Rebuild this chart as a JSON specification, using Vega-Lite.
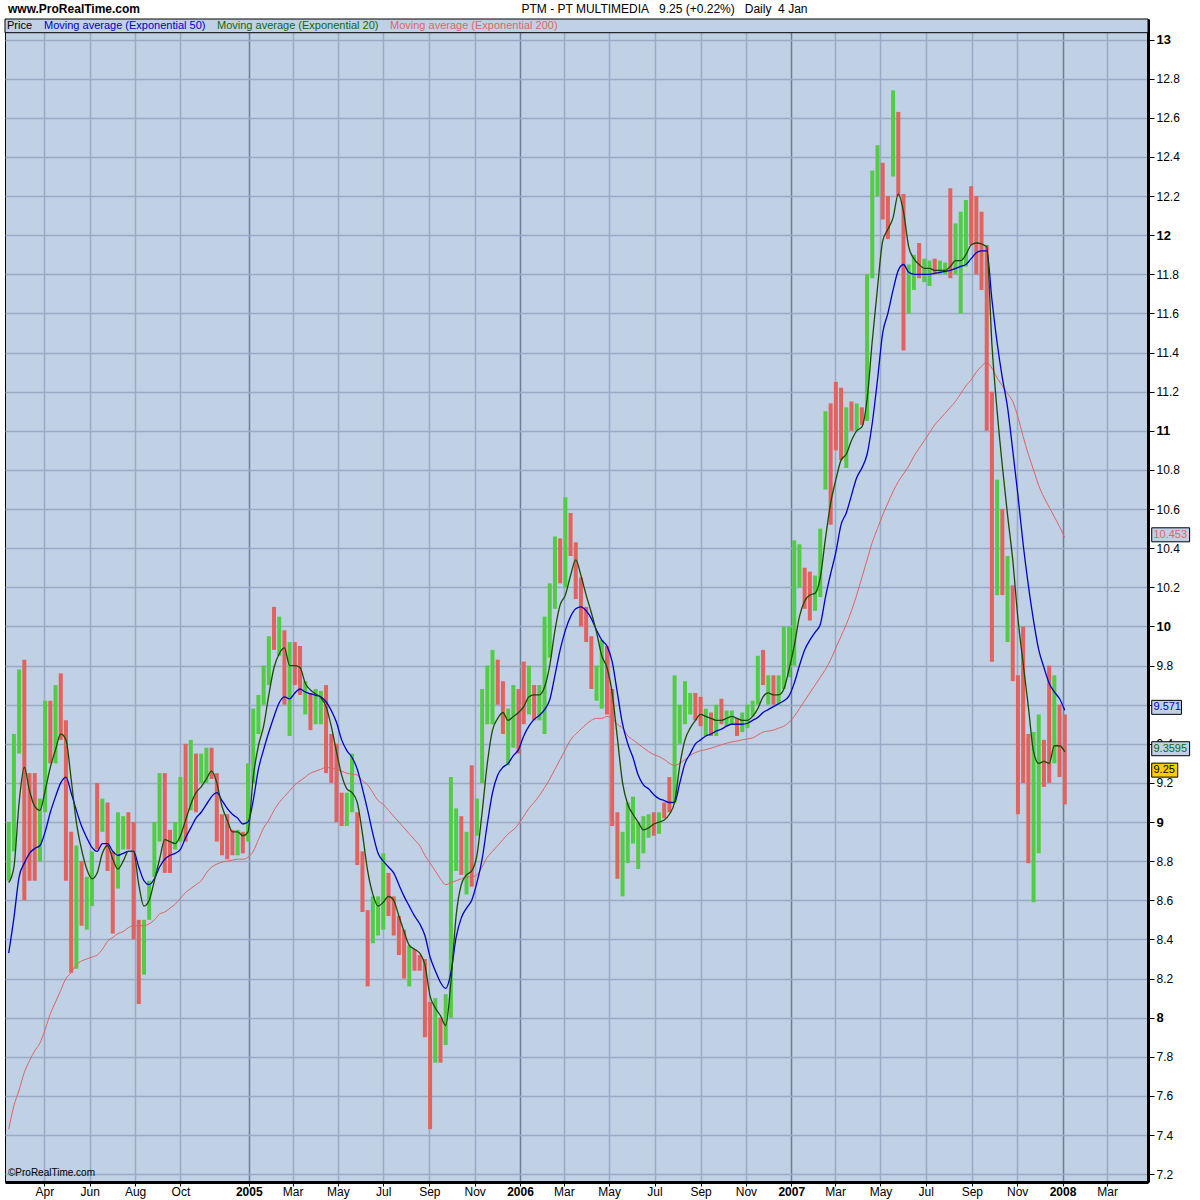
{
"$schema": "https://vega.github.io/schema/vega-lite/v6.json",
"width": 1143, "height": 1163,
"autosize": {"type": "none"},
"padding": {"left": 5, "top": 19, "right": 52, "bottom": 18},
"background": "white",
"config": {
  "font": "Liberation Sans",
  "view": {"fill": "#c0d1e6", "stroke": "black", "strokeWidth": 1},
  "axis": {"labelColor": "black", "labelFont": "Liberation Sans", "tickColor": "black", "domainColor": "black", "domainWidth": 3, "labelOverlap": false, "labelBound": false, "labelFlush": false},
  "scale": {"continuousPadding": 0}
},
"datasets": {
"px": [
{"d":"2004-02-13","lo":8.70,"hi":9.00,"dir":"up","e20":8.69,"e50":8.33,"e200":7.43},
{"d":"2004-02-20","lo":8.85,"hi":9.45,"dir":"up","e20":8.77,"e50":8.51,"e200":7.55},
{"d":"2004-02-27","lo":9.35,"hi":9.78,"dir":"up","e20":9.10,"e50":8.72,"e200":7.63},
{"d":"2004-03-05","lo":8.60,"hi":9.83,"dir":"dn","e20":9.28,"e50":8.79,"e200":7.72},
{"d":"2004-03-12","lo":8.70,"hi":9.25,"dir":"dn","e20":9.16,"e50":8.84,"e200":7.78},
{"d":"2004-03-19","lo":8.70,"hi":9.25,"dir":"dn","e20":9.08,"e50":8.865,"e200":7.83},
{"d":"2004-03-26","lo":8.80,"hi":9.12,"dir":"up","e20":9.06,"e50":8.88,"e200":7.87},
{"d":"2004-04-02","lo":9.05,"hi":9.62,"dir":"up","e20":9.16,"e50":8.95,"e200":7.94},
{"d":"2004-04-09","lo":9.30,"hi":9.62,"dir":"dn","e20":9.28,"e50":9.05,"e200":8.02},
{"d":"2004-04-16","lo":9.30,"hi":9.70,"dir":"up","e20":9.37,"e50":9.13,"e200":8.08},
{"d":"2004-04-23","lo":9.42,"hi":9.76,"dir":"dn","e20":9.45,"e50":9.20,"e200":8.14},
{"d":"2004-04-30","lo":8.70,"hi":9.52,"dir":"dn","e20":9.42,"e50":9.23,"e200":8.20},
{"d":"2004-05-07","lo":8.23,"hi":8.95,"dir":"dn","e20":9.22,"e50":9.15,"e200":8.23},
{"d":"2004-05-14","lo":8.25,"hi":8.88,"dir":"up","e20":9.00,"e50":9.06,"e200":8.27},
{"d":"2004-05-21","lo":8.47,"hi":8.80,"dir":"dn","e20":8.86,"e50":8.98,"e200":8.29},
{"d":"2004-05-28","lo":8.45,"hi":8.72,"dir":"up","e20":8.76,"e50":8.92,"e200":8.30},
{"d":"2004-06-04","lo":8.57,"hi":8.85,"dir":"up","e20":8.71,"e50":8.87,"e200":8.31},
{"d":"2004-06-11","lo":8.86,"hi":9.20,"dir":"dn","e20":8.74,"e50":8.85,"e200":8.32},
{"d":"2004-06-18","lo":8.95,"hi":9.12,"dir":"up","e20":8.84,"e50":8.89,"e200":8.35},
{"d":"2004-06-25","lo":8.75,"hi":9.10,"dir":"dn","e20":8.88,"e50":8.89,"e200":8.39},
{"d":"2004-07-02","lo":8.43,"hi":8.85,"dir":"dn","e20":8.81,"e50":8.85,"e200":8.41},
{"d":"2004-07-09","lo":8.66,"hi":9.05,"dir":"up","e20":8.76,"e50":8.83,"e200":8.43},
{"d":"2004-07-16","lo":8.86,"hi":9.03,"dir":"up","e20":8.80,"e50":8.84,"e200":8.44},
{"d":"2004-07-23","lo":8.86,"hi":9.05,"dir":"dn","e20":8.85,"e50":8.85,"e200":8.46},
{"d":"2004-07-30","lo":8.40,"hi":9.00,"dir":"dn","e20":8.85,"e50":8.85,"e200":8.47},
{"d":"2004-08-06","lo":8.07,"hi":8.50,"dir":"dn","e20":8.68,"e50":8.77,"e200":8.47},
{"d":"2004-08-13","lo":8.22,"hi":8.50,"dir":"up","e20":8.57,"e50":8.70,"e200":8.47},
{"d":"2004-08-20","lo":8.50,"hi":8.70,"dir":"up","e20":8.60,"e50":8.68,"e200":8.48},
{"d":"2004-08-27","lo":8.72,"hi":9.00,"dir":"up","e20":8.70,"e50":8.71,"e200":8.50},
{"d":"2004-09-03","lo":8.90,"hi":9.25,"dir":"up","e20":8.81,"e50":8.77,"e200":8.53},
{"d":"2004-09-10","lo":8.74,"hi":9.25,"dir":"dn","e20":8.91,"e50":8.81,"e200":8.54},
{"d":"2004-09-17","lo":8.74,"hi":8.96,"dir":"dn","e20":8.90,"e50":8.83,"e200":8.56},
{"d":"2004-09-24","lo":8.86,"hi":9.00,"dir":"up","e20":8.89,"e50":8.84,"e200":8.58},
{"d":"2004-10-01","lo":8.90,"hi":9.23,"dir":"up","e20":8.93,"e50":8.86,"e200":8.61},
{"d":"2004-10-08","lo":8.90,"hi":9.40,"dir":"dn","e20":9.01,"e50":8.92,"e200":8.64},
{"d":"2004-10-15","lo":9.06,"hi":9.42,"dir":"up","e20":9.09,"e50":8.97,"e200":8.66},
{"d":"2004-10-22","lo":9.05,"hi":9.35,"dir":"dn","e20":9.15,"e50":9.02,"e200":8.68},
{"d":"2004-10-29","lo":9.20,"hi":9.35,"dir":"up","e20":9.18,"e50":9.05,"e200":8.70},
{"d":"2004-11-05","lo":9.20,"hi":9.38,"dir":"up","e20":9.22,"e50":9.09,"e200":8.74},
{"d":"2004-11-12","lo":9.22,"hi":9.38,"dir":"dn","e20":9.26,"e50":9.13,"e200":8.77},
{"d":"2004-11-19","lo":8.90,"hi":9.25,"dir":"dn","e20":9.20,"e50":9.15,"e200":8.785},
{"d":"2004-11-26","lo":8.83,"hi":9.04,"dir":"dn","e20":9.08,"e50":9.11,"e200":8.795},
{"d":"2004-12-03","lo":8.81,"hi":9.04,"dir":"dn","e20":9.01,"e50":9.07,"e200":8.80},
{"d":"2004-12-10","lo":8.83,"hi":8.96,"dir":"dn","e20":8.95,"e50":9.04,"e200":8.805},
{"d":"2004-12-17","lo":8.83,"hi":8.96,"dir":"up","e20":8.95,"e50":9.02,"e200":8.81},
{"d":"2004-12-24","lo":8.84,"hi":8.95,"dir":"dn","e20":8.93,"e50":8.99,"e200":8.81},
{"d":"2004-12-31","lo":8.90,"hi":9.30,"dir":"up","e20":8.95,"e50":9.00,"e200":8.82},
{"d":"2005-01-07","lo":9.20,"hi":9.58,"dir":"up","e20":9.23,"e50":9.11,"e200":8.85},
{"d":"2005-01-14","lo":9.45,"hi":9.65,"dir":"up","e20":9.39,"e50":9.27,"e200":8.91},
{"d":"2005-01-21","lo":9.60,"hi":9.80,"dir":"up","e20":9.49,"e50":9.37,"e200":8.97},
{"d":"2005-01-28","lo":9.70,"hi":9.95,"dir":"up","e20":9.65,"e50":9.46,"e200":9.01},
{"d":"2005-02-04","lo":9.88,"hi":10.10,"dir":"dn","e20":9.79,"e50":9.54,"e200":9.06},
{"d":"2005-02-11","lo":9.85,"hi":10.05,"dir":"up","e20":9.86,"e50":9.61,"e200":9.10},
{"d":"2005-02-18","lo":9.60,"hi":9.98,"dir":"dn","e20":9.89,"e50":9.64,"e200":9.13},
{"d":"2005-02-25","lo":9.44,"hi":9.92,"dir":"up","e20":9.80,"e50":9.63,"e200":9.16},
{"d":"2005-03-04","lo":9.70,"hi":9.92,"dir":"dn","e20":9.80,"e50":9.66,"e200":9.19},
{"d":"2005-03-11","lo":9.65,"hi":9.90,"dir":"dn","e20":9.79,"e50":9.68,"e200":9.21},
{"d":"2005-03-18","lo":9.55,"hi":9.72,"dir":"up","e20":9.71,"e50":9.665,"e200":9.23},
{"d":"2005-03-25","lo":9.47,"hi":9.66,"dir":"dn","e20":9.675,"e50":9.655,"e200":9.25},
{"d":"2005-04-01","lo":9.50,"hi":9.68,"dir":"up","e20":9.655,"e50":9.648,"e200":9.26},
{"d":"2005-04-08","lo":9.50,"hi":9.67,"dir":"up","e20":9.635,"e50":9.64,"e200":9.27},
{"d":"2005-04-15","lo":9.25,"hi":9.70,"dir":"dn","e20":9.59,"e50":9.615,"e200":9.28},
{"d":"2005-04-22","lo":9.20,"hi":9.45,"dir":"dn","e20":9.49,"e50":9.57,"e200":9.275},
{"d":"2005-04-29","lo":9.00,"hi":9.40,"dir":"dn","e20":9.36,"e50":9.51,"e200":9.27},
{"d":"2005-05-06","lo":8.98,"hi":9.15,"dir":"dn","e20":9.24,"e50":9.42,"e200":9.26},
{"d":"2005-05-13","lo":8.98,"hi":9.15,"dir":"up","e20":9.17,"e50":9.365,"e200":9.25},
{"d":"2005-05-20","lo":9.05,"hi":9.35,"dir":"up","e20":9.15,"e50":9.33,"e200":9.245},
{"d":"2005-05-27","lo":8.78,"hi":9.05,"dir":"dn","e20":9.10,"e50":9.27,"e200":9.24},
{"d":"2005-06-03","lo":8.54,"hi":8.85,"dir":"dn","e20":8.94,"e50":9.17,"e200":9.21},
{"d":"2005-06-10","lo":8.16,"hi":8.55,"dir":"dn","e20":8.75,"e50":9.06,"e200":9.19},
{"d":"2005-06-17","lo":8.38,"hi":8.62,"dir":"up","e20":8.63,"e50":8.94,"e200":9.15},
{"d":"2005-06-24","lo":8.42,"hi":8.62,"dir":"up","e20":8.57,"e50":8.84,"e200":9.11},
{"d":"2005-07-01","lo":8.45,"hi":8.84,"dir":"up","e20":8.59,"e50":8.80,"e200":9.09},
{"d":"2005-07-08","lo":8.52,"hi":8.74,"dir":"dn","e20":8.62,"e50":8.77,"e200":9.06},
{"d":"2005-07-15","lo":8.42,"hi":8.62,"dir":"dn","e20":8.60,"e50":8.74,"e200":9.03},
{"d":"2005-07-22","lo":8.32,"hi":8.52,"dir":"dn","e20":8.52,"e50":8.68,"e200":9.00},
{"d":"2005-07-29","lo":8.20,"hi":8.45,"dir":"dn","e20":8.44,"e50":8.62,"e200":8.97},
{"d":"2005-08-05","lo":8.16,"hi":8.37,"dir":"up","e20":8.37,"e50":8.57,"e200":8.94},
{"d":"2005-08-12","lo":8.24,"hi":8.35,"dir":"dn","e20":8.35,"e50":8.52,"e200":8.91},
{"d":"2005-08-19","lo":8.24,"hi":8.32,"dir":"dn","e20":8.33,"e50":8.48,"e200":8.88},
{"d":"2005-08-26","lo":7.90,"hi":8.30,"dir":"dn","e20":8.27,"e50":8.42,"e200":8.83},
{"d":"2005-09-02","lo":7.43,"hi":8.08,"dir":"dn","e20":8.11,"e50":8.31,"e200":8.79},
{"d":"2005-09-09","lo":7.77,"hi":8.10,"dir":"up","e20":8.05,"e50":8.24,"e200":8.75},
{"d":"2005-09-16","lo":7.77,"hi":8.00,"dir":"dn","e20":8.01,"e50":8.18,"e200":8.71},
{"d":"2005-09-23","lo":7.86,"hi":8.12,"dir":"up","e20":7.96,"e50":8.15,"e200":8.68},
{"d":"2005-09-30","lo":8.00,"hi":9.23,"dir":"up","e20":8.18,"e50":8.23,"e200":8.69},
{"d":"2005-10-07","lo":8.75,"hi":9.07,"dir":"up","e20":8.52,"e50":8.41,"e200":8.70},
{"d":"2005-10-14","lo":8.73,"hi":9.03,"dir":"dn","e20":8.68,"e50":8.51,"e200":8.71},
{"d":"2005-10-21","lo":8.63,"hi":8.95,"dir":"up","e20":8.73,"e50":8.56,"e200":8.72},
{"d":"2005-10-28","lo":8.67,"hi":9.29,"dir":"dn","e20":8.75,"e50":8.60,"e200":8.72},
{"d":"2005-11-04","lo":8.93,"hi":9.12,"dir":"up","e20":8.83,"e50":8.69,"e200":8.73},
{"d":"2005-11-11","lo":9.20,"hi":9.68,"dir":"up","e20":9.05,"e50":8.81,"e200":8.77},
{"d":"2005-11-18","lo":9.50,"hi":9.80,"dir":"up","e20":9.30,"e50":8.99,"e200":8.82},
{"d":"2005-11-25","lo":9.50,"hi":9.88,"dir":"up","e20":9.47,"e50":9.15,"e200":8.85},
{"d":"2005-12-02","lo":9.60,"hi":9.83,"dir":"dn","e20":9.53,"e50":9.24,"e200":8.88},
{"d":"2005-12-09","lo":9.45,"hi":9.72,"dir":"dn","e20":9.56,"e50":9.28,"e200":8.91},
{"d":"2005-12-16","lo":9.29,"hi":9.58,"dir":"up","e20":9.52,"e50":9.30,"e200":8.94},
{"d":"2005-12-23","lo":9.38,"hi":9.70,"dir":"up","e20":9.54,"e50":9.34,"e200":8.96},
{"d":"2005-12-30","lo":9.35,"hi":9.68,"dir":"dn","e20":9.56,"e50":9.37,"e200":8.99},
{"d":"2006-01-06","lo":9.50,"hi":9.82,"dir":"dn","e20":9.59,"e50":9.44,"e200":9.03},
{"d":"2006-01-13","lo":9.55,"hi":9.80,"dir":"up","e20":9.64,"e50":9.49,"e200":9.07},
{"d":"2006-01-20","lo":9.52,"hi":9.70,"dir":"dn","e20":9.65,"e50":9.525,"e200":9.10},
{"d":"2006-01-27","lo":9.52,"hi":9.70,"dir":"up","e20":9.65,"e50":9.545,"e200":9.135},
{"d":"2006-02-03","lo":9.45,"hi":10.05,"dir":"up","e20":9.69,"e50":9.575,"e200":9.175},
{"d":"2006-02-10","lo":9.84,"hi":10.22,"dir":"up","e20":9.80,"e50":9.625,"e200":9.22},
{"d":"2006-02-17","lo":10.09,"hi":10.46,"dir":"up","e20":9.98,"e50":9.75,"e200":9.27},
{"d":"2006-02-24","lo":10.22,"hi":10.45,"dir":"dn","e20":10.11,"e50":9.88,"e200":9.32},
{"d":"2006-03-03","lo":10.20,"hi":10.66,"dir":"up","e20":10.16,"e50":9.98,"e200":9.37},
{"d":"2006-03-10","lo":10.36,"hi":10.58,"dir":"dn","e20":10.26,"e50":10.05,"e200":9.42},
{"d":"2006-03-17","lo":10.14,"hi":10.43,"dir":"dn","e20":10.34,"e50":10.09,"e200":9.45},
{"d":"2006-03-24","lo":10.00,"hi":10.25,"dir":"dn","e20":10.26,"e50":10.10,"e200":9.475},
{"d":"2006-03-31","lo":9.92,"hi":10.10,"dir":"dn","e20":10.16,"e50":10.08,"e200":9.50},
{"d":"2006-04-07","lo":9.68,"hi":9.95,"dir":"dn","e20":10.07,"e50":10.04,"e200":9.52},
{"d":"2006-04-14","lo":9.62,"hi":9.80,"dir":"up","e20":9.97,"e50":9.98,"e200":9.53},
{"d":"2006-04-21","lo":9.58,"hi":9.93,"dir":"up","e20":9.85,"e50":9.93,"e200":9.53},
{"d":"2006-04-28","lo":9.55,"hi":9.90,"dir":"dn","e20":9.79,"e50":9.90,"e200":9.54},
{"d":"2006-05-05","lo":8.98,"hi":9.68,"dir":"dn","e20":9.66,"e50":9.82,"e200":9.53},
{"d":"2006-05-12","lo":8.71,"hi":9.05,"dir":"dn","e20":9.43,"e50":9.66,"e200":9.50},
{"d":"2006-05-19","lo":8.62,"hi":8.95,"dir":"up","e20":9.20,"e50":9.50,"e200":9.48},
{"d":"2006-05-26","lo":8.79,"hi":9.10,"dir":"up","e20":9.09,"e50":9.40,"e200":9.44},
{"d":"2006-06-02","lo":8.89,"hi":9.13,"dir":"up","e20":9.04,"e50":9.33,"e200":9.42},
{"d":"2006-06-09","lo":8.76,"hi":9.00,"dir":"up","e20":9.00,"e50":9.24,"e200":9.40},
{"d":"2006-06-16","lo":8.84,"hi":9.03,"dir":"up","e20":8.96,"e50":9.19,"e200":9.38},
{"d":"2006-06-23","lo":8.92,"hi":9.04,"dir":"up","e20":8.97,"e50":9.17,"e200":9.36},
{"d":"2006-06-30","lo":8.93,"hi":9.05,"dir":"dn","e20":8.99,"e50":9.14,"e200":9.345},
{"d":"2006-07-07","lo":8.94,"hi":9.05,"dir":"up","e20":9.00,"e50":9.12,"e200":9.335},
{"d":"2006-07-14","lo":9.02,"hi":9.10,"dir":"dn","e20":9.01,"e50":9.11,"e200":9.32},
{"d":"2006-07-21","lo":9.05,"hi":9.23,"dir":"dn","e20":9.04,"e50":9.10,"e200":9.30},
{"d":"2006-07-28","lo":9.10,"hi":9.75,"dir":"up","e20":9.10,"e50":9.10,"e200":9.29},
{"d":"2006-08-04","lo":9.40,"hi":9.60,"dir":"up","e20":9.29,"e50":9.20,"e200":9.30},
{"d":"2006-08-11","lo":9.50,"hi":9.72,"dir":"up","e20":9.42,"e50":9.30,"e200":9.32},
{"d":"2006-08-18","lo":9.55,"hi":9.66,"dir":"up","e20":9.48,"e50":9.35,"e200":9.34},
{"d":"2006-08-25","lo":9.52,"hi":9.66,"dir":"dn","e20":9.52,"e50":9.40,"e200":9.355},
{"d":"2006-09-01","lo":9.49,"hi":9.64,"dir":"dn","e20":9.55,"e50":9.42,"e200":9.365},
{"d":"2006-09-08","lo":9.44,"hi":9.58,"dir":"up","e20":9.54,"e50":9.44,"e200":9.37},
{"d":"2006-09-15","lo":9.44,"hi":9.56,"dir":"dn","e20":9.53,"e50":9.45,"e200":9.378},
{"d":"2006-09-22","lo":9.44,"hi":9.60,"dir":"up","e20":9.52,"e50":9.465,"e200":9.386},
{"d":"2006-09-29","lo":9.50,"hi":9.63,"dir":"dn","e20":9.52,"e50":9.475,"e200":9.395},
{"d":"2006-10-06","lo":9.49,"hi":9.57,"dir":"up","e20":9.53,"e50":9.49,"e200":9.403},
{"d":"2006-10-13","lo":9.50,"hi":9.57,"dir":"up","e20":9.54,"e50":9.50,"e200":9.41},
{"d":"2006-10-20","lo":9.44,"hi":9.53,"dir":"dn","e20":9.53,"e50":9.50,"e200":9.414},
{"d":"2006-10-27","lo":9.46,"hi":9.56,"dir":"up","e20":9.52,"e50":9.50,"e200":9.42},
{"d":"2006-11-03","lo":9.48,"hi":9.60,"dir":"up","e20":9.52,"e50":9.505,"e200":9.425},
{"d":"2006-11-10","lo":9.54,"hi":9.62,"dir":"up","e20":9.54,"e50":9.52,"e200":9.43},
{"d":"2006-11-17","lo":9.60,"hi":9.85,"dir":"up","e20":9.58,"e50":9.535,"e200":9.445},
{"d":"2006-11-24","lo":9.70,"hi":9.88,"dir":"dn","e20":9.64,"e50":9.56,"e200":9.46},
{"d":"2006-12-01","lo":9.60,"hi":9.75,"dir":"up","e20":9.66,"e50":9.575,"e200":9.465},
{"d":"2006-12-08","lo":9.60,"hi":9.75,"dir":"dn","e20":9.65,"e50":9.59,"e200":9.47},
{"d":"2006-12-15","lo":9.60,"hi":9.75,"dir":"up","e20":9.65,"e50":9.605,"e200":9.48},
{"d":"2006-12-22","lo":9.68,"hi":10.00,"dir":"up","e20":9.68,"e50":9.62,"e200":9.49},
{"d":"2006-12-29","lo":9.74,"hi":10.00,"dir":"up","e20":9.78,"e50":9.645,"e200":9.51},
{"d":"2007-01-05","lo":9.80,"hi":10.44,"dir":"up","e20":9.90,"e50":9.71,"e200":9.54},
{"d":"2007-01-12","lo":10.20,"hi":10.42,"dir":"up","e20":10.05,"e50":9.80,"e200":9.58},
{"d":"2007-01-19","lo":10.09,"hi":10.30,"dir":"dn","e20":10.13,"e50":9.88,"e200":9.62},
{"d":"2007-01-26","lo":10.03,"hi":10.28,"dir":"dn","e20":10.16,"e50":9.93,"e200":9.66},
{"d":"2007-02-02","lo":10.08,"hi":10.26,"dir":"up","e20":10.17,"e50":9.97,"e200":9.70},
{"d":"2007-02-09","lo":10.15,"hi":10.50,"dir":"up","e20":10.25,"e50":10.01,"e200":9.74},
{"d":"2007-02-16","lo":10.70,"hi":11.10,"dir":"up","e20":10.45,"e50":10.15,"e200":9.78},
{"d":"2007-02-23","lo":10.52,"hi":11.14,"dir":"dn","e20":10.63,"e50":10.27,"e200":9.83},
{"d":"2007-03-02","lo":10.90,"hi":11.25,"dir":"dn","e20":10.75,"e50":10.38,"e200":9.89},
{"d":"2007-03-09","lo":10.85,"hi":11.22,"dir":"dn","e20":10.85,"e50":10.52,"e200":9.95},
{"d":"2007-03-16","lo":10.81,"hi":11.12,"dir":"up","e20":10.88,"e50":10.58,"e200":10.01},
{"d":"2007-03-23","lo":11.00,"hi":11.15,"dir":"dn","e20":10.95,"e50":10.67,"e200":10.08},
{"d":"2007-03-30","lo":11.00,"hi":11.14,"dir":"up","e20":11.00,"e50":10.76,"e200":10.16},
{"d":"2007-04-06","lo":11.03,"hi":11.12,"dir":"dn","e20":11.02,"e50":10.81,"e200":10.25},
{"d":"2007-04-13","lo":11.05,"hi":11.80,"dir":"up","e20":11.16,"e50":10.88,"e200":10.34},
{"d":"2007-04-20","lo":11.78,"hi":12.33,"dir":"up","e20":11.46,"e50":11.04,"e200":10.43},
{"d":"2007-04-27","lo":12.20,"hi":12.46,"dir":"up","e20":11.73,"e50":11.26,"e200":10.50},
{"d":"2007-05-04","lo":12.08,"hi":12.37,"dir":"dn","e20":11.97,"e50":11.50,"e200":10.57},
{"d":"2007-05-11","lo":11.98,"hi":12.20,"dir":"dn","e20":12.03,"e50":11.60,"e200":10.63},
{"d":"2007-05-18","lo":12.30,"hi":12.74,"dir":"up","e20":12.09,"e50":11.72,"e200":10.69},
{"d":"2007-05-25","lo":12.20,"hi":12.63,"dir":"dn","e20":12.21,"e50":11.82,"e200":10.74},
{"d":"2007-06-01","lo":11.41,"hi":12.21,"dir":"dn","e20":12.12,"e50":11.85,"e200":10.78},
{"d":"2007-06-08","lo":11.60,"hi":11.85,"dir":"up","e20":11.94,"e50":11.81,"e200":10.82},
{"d":"2007-06-15","lo":11.72,"hi":11.90,"dir":"up","e20":11.88,"e50":11.80,"e200":10.87},
{"d":"2007-06-22","lo":11.78,"hi":11.96,"dir":"dn","e20":11.85,"e50":11.80,"e200":10.91},
{"d":"2007-06-29","lo":11.76,"hi":11.88,"dir":"up","e20":11.83,"e50":11.80,"e200":10.95},
{"d":"2007-07-06","lo":11.74,"hi":11.87,"dir":"up","e20":11.83,"e50":11.80,"e200":10.99},
{"d":"2007-07-13","lo":11.80,"hi":11.88,"dir":"dn","e20":11.82,"e50":11.805,"e200":11.03},
{"d":"2007-07-20","lo":11.80,"hi":11.87,"dir":"up","e20":11.82,"e50":11.81,"e200":11.06},
{"d":"2007-07-27","lo":11.80,"hi":11.86,"dir":"up","e20":11.82,"e50":11.815,"e200":11.09},
{"d":"2007-08-03","lo":11.78,"hi":12.24,"dir":"dn","e20":11.84,"e50":11.82,"e200":11.12},
{"d":"2007-08-10","lo":11.80,"hi":12.06,"dir":"up","e20":11.87,"e50":11.83,"e200":11.15},
{"d":"2007-08-17","lo":11.60,"hi":12.12,"dir":"up","e20":11.87,"e50":11.84,"e200":11.19},
{"d":"2007-08-24","lo":11.84,"hi":12.18,"dir":"up","e20":11.90,"e50":11.85,"e200":11.23},
{"d":"2007-08-31","lo":11.95,"hi":12.25,"dir":"dn","e20":11.95,"e50":11.88,"e200":11.26},
{"d":"2007-09-07","lo":11.80,"hi":12.20,"dir":"dn","e20":11.96,"e50":11.91,"e200":11.30},
{"d":"2007-09-14","lo":11.72,"hi":12.12,"dir":"dn","e20":11.955,"e50":11.92,"e200":11.33},
{"d":"2007-09-21","lo":11.00,"hi":11.95,"dir":"dn","e20":11.94,"e50":11.92,"e200":11.35},
{"d":"2007-09-28","lo":9.82,"hi":11.20,"dir":"dn","e20":11.44,"e50":11.67,"e200":11.32},
{"d":"2007-10-05","lo":10.16,"hi":10.75,"dir":"up","e20":11.10,"e50":11.45,"e200":11.27},
{"d":"2007-10-12","lo":10.16,"hi":10.60,"dir":"dn","e20":10.82,"e50":11.27,"e200":11.23},
{"d":"2007-10-19","lo":9.92,"hi":10.36,"dir":"up","e20":10.57,"e50":11.12,"e200":11.19},
{"d":"2007-10-26","lo":9.72,"hi":10.21,"dir":"dn","e20":10.34,"e50":10.90,"e200":11.15},
{"d":"2007-11-02","lo":9.04,"hi":9.75,"dir":"dn","e20":10.04,"e50":10.67,"e200":11.07},
{"d":"2007-11-09","lo":9.20,"hi":10.00,"dir":"dn","e20":9.81,"e50":10.42,"e200":10.97},
{"d":"2007-11-16","lo":8.79,"hi":9.45,"dir":"dn","e20":9.59,"e50":10.21,"e200":10.88},
{"d":"2007-11-23","lo":8.59,"hi":9.46,"dir":"up","e20":9.36,"e50":10.03,"e200":10.80},
{"d":"2007-11-30","lo":8.84,"hi":9.55,"dir":"up","e20":9.30,"e50":9.88,"e200":10.72},
{"d":"2007-12-07","lo":9.18,"hi":9.42,"dir":"dn","e20":9.31,"e50":9.79,"e200":10.66},
{"d":"2007-12-14","lo":9.20,"hi":9.80,"dir":"dn","e20":9.30,"e50":9.71,"e200":10.61},
{"d":"2007-12-21","lo":9.30,"hi":9.75,"dir":"up","e20":9.39,"e50":9.665,"e200":10.56},
{"d":"2007-12-28","lo":9.23,"hi":9.60,"dir":"dn","e20":9.39,"e50":9.63,"e200":10.51},
{"d":"2008-01-04","lo":9.09,"hi":9.55,"dir":"dn","e20":9.3595,"e50":9.571,"e200":10.453}
],
"tags": [
{"s":"Moving average (Exponential 200)","v":10.453,"t":"10.453"},
{"s":"Moving average (Exponential 50)","v":9.571,"t":"9.571"},
{"s":"Moving average (Exponential 20)","v":9.3595,"t":"9.3595"},
{"s":"Price","v":9.25,"t":"9.25"}
]
},
"layer": [
{
 "data": {"name": "px"},
 "mark": {"type": "rule", "strokeWidth": 4},
 "encoding": {
  "x": {"field": "d", "type": "temporal", "title": null,
   "scale": {"domain": [{"year":2004,"month":2,"date":8},{"year":2008,"month":4,"date":25}], "nice": false, "padding": 0},
   "axis": {"orient": "bottom", "title": null, "grid": true,
    "values": [{"year":2004,"month":4,"date":1},{"year":2004,"month":6,"date":1},{"year":2004,"month":8,"date":1},{"year":2004,"month":10,"date":1},
     {"year":2005,"month":1,"date":1},{"year":2005,"month":3,"date":1},{"year":2005,"month":5,"date":1},{"year":2005,"month":7,"date":1},{"year":2005,"month":9,"date":1},{"year":2005,"month":11,"date":1},
     {"year":2006,"month":1,"date":1},{"year":2006,"month":3,"date":1},{"year":2006,"month":5,"date":1},{"year":2006,"month":7,"date":1},{"year":2006,"month":9,"date":1},{"year":2006,"month":11,"date":1},
     {"year":2007,"month":1,"date":1},{"year":2007,"month":3,"date":1},{"year":2007,"month":5,"date":1},{"year":2007,"month":7,"date":1},{"year":2007,"month":9,"date":1},{"year":2007,"month":11,"date":1},
     {"year":2008,"month":1,"date":1},{"year":2008,"month":3,"date":1}],
    "labelExpr": "month(datum.value)==0 ? timeFormat(datum.value,'%Y') : timeFormat(datum.value,'%b')",
    "labelFontWeight": {"condition": {"test": "month(datum.value)==0", "value": "bold"}, "value": "normal"},
    "labelFontSize": 12,
    "gridColor": {"condition": {"test": "month(datum.value)==0", "value": "#6d7e98"}, "value": "#98aac4"},
    "gridWidth": 1.5, "tickSize": 4, "labelPadding": 0}},
  "y": {"field": "lo", "type": "quantitative", "title": null,
   "scale": {"domain": [7.16, 13.105], "zero": false, "nice": false, "padding": 0},
   "axis": {"orient": "right", "title": null, "grid": true,
    "values": [7.2,7.3,7.4,7.5,7.6,7.7,7.8,7.9,8,8.1,8.2,8.3,8.4,8.5,8.6,8.7,8.8,8.9,9,9.1,9.2,9.3,9.4,9.5,9.6,9.7,9.8,9.9,10,10.1,10.2,10.3,10.4,10.5,10.6,10.7,10.8,10.9,11,11.1,11.2,11.3,11.4,11.5,11.6,11.7,11.8,11.9,12,12.1,12.2,12.3,12.4,12.5,12.6,12.7,12.8,12.9,13],
    "labelExpr": "round(datum.value*10)%2==0 ? format(datum.value,'.1~f') : ''",
    "gridColor": "#98aac4", "gridWidth": 1.5,
    "gridOpacity": {"condition": {"test": "round(datum.value*10)%2==1", "value": 0}, "value": 1},
    "tickSize": {"condition": {"test": "round(datum.value*10)%2==1", "value": 3}, "value": 6},
    "labelFontWeight": {"condition": {"test": "round(datum.value*10)%10==0", "value": "bold"}, "value": "normal"},
    "labelFontSize": {"condition": {"test": "round(datum.value*10)%10==0", "value": 13}, "value": 12},
    "labelPadding": 2}},
  "y2": {"field": "hi"},
  "stroke": {"field": "dir", "type": "nominal", "scale": {"domain": ["up","dn"], "range": ["#52cc44","#e2625e"]}, "legend": null}
 }
},
{
 "data": {"name": "px"},
 "mark": {"type": "line", "color": "#e06262", "strokeWidth": 1, "interpolate": "monotone"},
 "encoding": {"x": {"field": "d", "type": "temporal", "title": null}, "y": {"field": "e200", "type": "quantitative", "title": null}}
},
{
 "data": {"name": "px"},
 "mark": {"type": "line", "color": "#0000c8", "strokeWidth": 1.3, "interpolate": "monotone"},
 "encoding": {"x": {"field": "d", "type": "temporal", "title": null}, "y": {"field": "e50", "type": "quantitative", "title": null}}
},
{
 "data": {"name": "px"},
 "mark": {"type": "line", "color": "#1a4a00", "strokeWidth": 1.3, "interpolate": "monotone"},
 "encoding": {"x": {"field": "d", "type": "temporal", "title": null}, "y": {"field": "e20", "type": "quantitative", "title": null}}
},
{
 "data": {"values": [{}]},
 "mark": {"type": "rect", "fill": "#c0d1e6", "stroke": "black", "strokeWidth": 1},
 "encoding": {
  "x": {"datum": {"year":2004,"month":2,"date":8}, "type": "temporal", "title": null},
  "x2": {"datum": {"year":2008,"month":4,"date":25}},
  "y": {"datum": 13.035, "type": "quantitative", "title": null},
  "y2": {"datum": 13.105}
 }
},
{
 "data": {"name": "tags"},
 "transform": [{"filter": "datum.t=='10.453' || datum.t=='9.3595'"}],
 "mark": {"type": "bar", "orient": "horizontal", "size": 14, "yOffset": -3, "fill": "#c0d1e6", "stroke": "black", "strokeWidth": 1, "clip": false},
 "encoding": {
  "x": {"datum": {"year":2008,"month":4,"date":30}, "type": "temporal", "title": null},
  "x2": {"datum": {"year":2008,"month":6,"date":20}},
  "y": {"field": "v", "type": "quantitative", "title": null}
 }
},
{
 "data": {"name": "tags"},
 "transform": [{"filter": "datum.t=='9.571'"}],
 "mark": {"type": "bar", "orient": "horizontal", "size": 14, "yOffset": -3, "fill": "#c0d1e6", "stroke": "black", "strokeWidth": 1, "clip": false},
 "encoding": {
  "x": {"datum": {"year":2008,"month":4,"date":30}, "type": "temporal", "title": null},
  "x2": {"datum": {"year":2008,"month":6,"date":9}},
  "y": {"field": "v", "type": "quantitative", "title": null}
 }
},
{
 "data": {"name": "tags"},
 "transform": [{"filter": "datum.t=='9.25'"}],
 "mark": {"type": "bar", "orient": "horizontal", "size": 14, "yOffset": -3, "fill": "#ffcc00", "stroke": "black", "strokeWidth": 1, "clip": false},
 "encoding": {
  "x": {"datum": {"year":2008,"month":4,"date":30}, "type": "temporal", "title": null},
  "x2": {"datum": {"year":2008,"month":6,"date":4}},
  "y": {"field": "v", "type": "quantitative", "title": null}
 }
},
{
 "data": {"name": "tags"},
 "mark": {"type": "text", "align": "left", "baseline": "middle", "dx": 1, "yOffset": -3, "fontSize": 11, "font": "Liberation Sans", "clip": false},
 "encoding": {
  "x": {"datum": {"year":2008,"month":5,"date":1}, "type": "temporal", "title": null},
  "y": {"field": "v", "type": "quantitative", "title": null},
  "text": {"field": "t"},
  "color": {"field": "s", "type": "nominal",
   "scale": {"domain": ["Price","Moving average (Exponential 50)","Moving average (Exponential 20)","Moving average (Exponential 200)"], "range": ["#000000","#0000cc","#0b6a0b","#e06666"]},
   "legend": {"orient": "none", "legendX": -9, "legendY": 1, "direction": "horizontal", "title": null,
    "symbolSize": 0, "symbolStrokeWidth": 0, "symbolOpacity": 0, "labelOffset": 0, "columnPadding": 0,
    "labelFont": "Liberation Sans", "labelFontSize": 11, "labelLimit": 400, "padding": 0,
    "encode": {"labels": {"update": {"fill": {"scale": "color", "field": "value"}}}}}}
 }
},
{
 "data": {"values": [{"t": "www.ProRealTime.com"}]},
 "mark": {"type": "text", "align": "left", "baseline": "middle", "fontSize": 12, "fontWeight": "bold", "font": "Liberation Sans", "clip": false},
 "encoding": {
  "x": {"datum": {"year":2004,"month":2,"date":12}, "type": "temporal", "title": null},
  "y": {"datum": 13.156, "type": "quantitative", "title": null},
  "text": {"field": "t"}
 }
},
{
 "data": {"values": [{"t": "PTM - PT MULTIMEDIA\u00a0\u00a0\u00a09.25 (+0.22%)\u00a0\u00a0\u00a0Daily\u00a0\u00a04 Jan"}]},
 "mark": {"type": "text", "align": "left", "baseline": "middle", "fontSize": 12, "font": "Liberation Sans", "clip": false},
 "encoding": {
  "x": {"datum": {"year":2006,"month":1,"date":3}, "type": "temporal", "title": null},
  "y": {"datum": 13.156, "type": "quantitative", "title": null},
  "text": {"field": "t"}
 }
},
{
 "data": {"values": [{"t": "\u00a9ProRealTime.com"}]},
 "mark": {"type": "text", "align": "left", "baseline": "middle", "fontSize": 10, "font": "Liberation Sans"},
 "encoding": {
  "x": {"datum": {"year":2004,"month":2,"date":12}, "type": "temporal", "title": null},
  "y": {"datum": 7.205, "type": "quantitative", "title": null},
  "text": {"field": "t"}
 }
}
]
}
